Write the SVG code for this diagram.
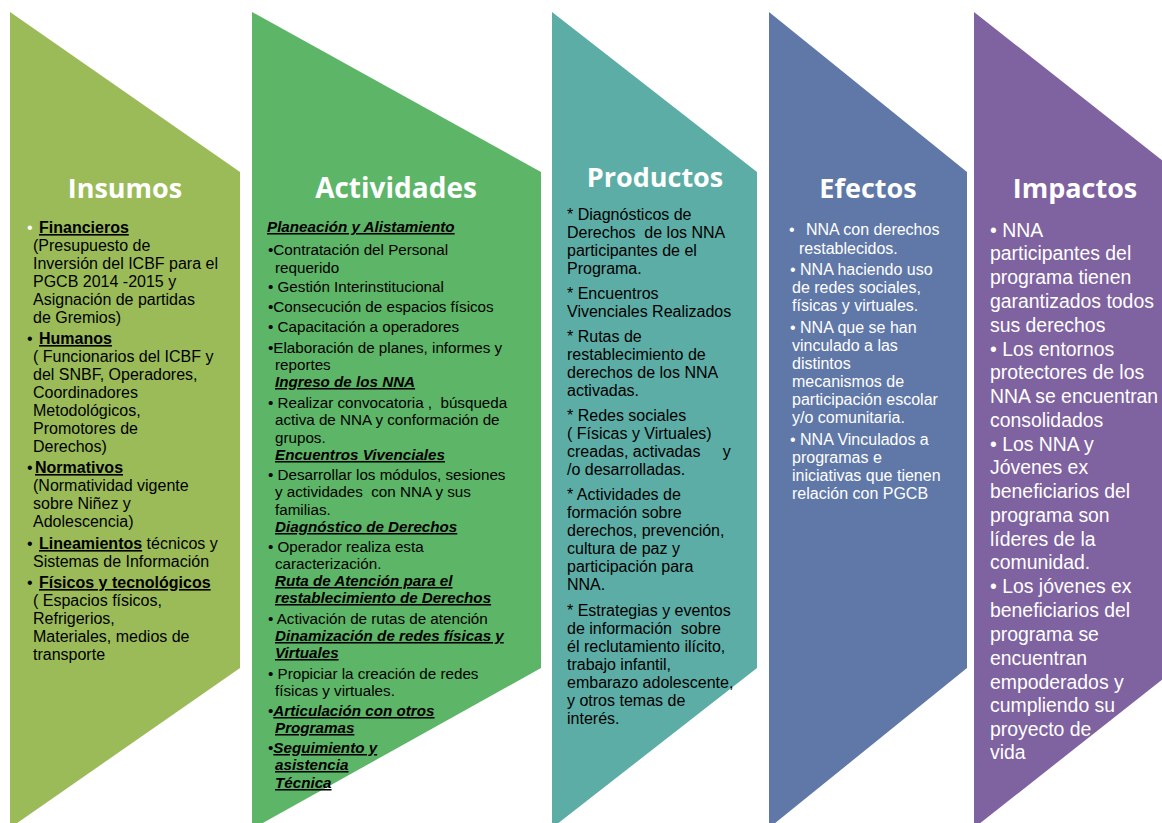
<svg xmlns="http://www.w3.org/2000/svg" width="1162" height="823" viewBox="0 0 1162 823">
<style>
text{font-family:"Liberation Sans",Arial,sans-serif;white-space:pre}
.title{font-family:"Open Sans","Liberation Sans",sans-serif;font-weight:bold;font-size:27px;fill:#fff;text-anchor:middle}
.ins{font-size:16px;fill:#000}
.act{font-size:15.2px;fill:#000}
.pro{font-size:16px;fill:#000}
.efe{font-size:16px;fill:#fff}
.imp{font-size:19.4px;fill:#fff}
.h{font-weight:bold;text-decoration:underline}
.hi{font-weight:bold;font-style:italic;text-decoration:underline}
</style>
<rect width="1162" height="823" fill="#fff"/>

<g id="node-insumos">
<polygon points="10,12 240,172 240,668 10,828" fill="#9BBB59"/>
<text class="title" x="125" y="198">Insumos</text>
<text class="ins" x="27" y="233"><tspan fill="#fff">•</tspan><tspan x="39" class="h">Financieros</tspan></text>
<text class="ins" x="33" y="251">(Presupuesto de</text>
<text class="ins" x="33" y="269">Inversión del ICBF para el</text>
<text class="ins" x="33" y="287">PGCB 2014 -2015 y</text>
<text class="ins" x="33" y="305">Asignación de partidas</text>
<text class="ins" x="33" y="323">de Gremios)</text>
<text class="ins" x="27" y="344">•<tspan x="39" class="h">Humanos</tspan></text>
<text class="ins" x="33" y="362">( Funcionarios del ICBF y</text>
<text class="ins" x="33" y="380">del SNBF, Operadores,</text>
<text class="ins" x="33" y="398">Coordinadores</text>
<text class="ins" x="33" y="416">Metodológicos,</text>
<text class="ins" x="33" y="434">Promotores de</text>
<text class="ins" x="33" y="452">Derechos)</text>
<text class="ins" x="27" y="473">•<tspan x="35" class="h">Normativos</tspan></text>
<text class="ins" x="33" y="491">(Normatividad vigente</text>
<text class="ins" x="33" y="509">sobre Niñez y</text>
<text class="ins" x="33" y="527">Adolescencia)</text>
<text class="ins" x="27" y="549">•<tspan x="39" class="h">Lineamientos</tspan> técnicos y</text>
<text class="ins" x="33" y="567">Sistemas de Información</text>
<text class="ins" x="27" y="588">•<tspan x="39" class="h">Físicos y tecnológicos</tspan></text>
<text class="ins" x="33" y="606">( Espacios físicos,</text>
<text class="ins" x="33" y="624">Refrigerios,</text>
<text class="ins" x="33" y="642">Materiales, medios de</text>
<text class="ins" x="33" y="660">transporte</text>
</g>

<g id="node-actividades">
<polygon points="252,12 541,172 541,668 252,829" fill="#5DB567"/>
<text class="title" x="396" y="198" style="font-size:28px">Actividades</text>
<text class="act hi" x="267" y="232">Planeación y Alistamiento</text>
<text class="act" x="268" y="255">•Contratación del Personal</text>
<text class="act" x="275" y="273">requerido</text>
<text class="act" x="268" y="292">• Gestión Interinstitucional</text>
<text class="act" x="268" y="312">•Consecución de espacios físicos</text>
<text class="act" x="268" y="332">• Capacitación a operadores</text>
<text class="act" x="268" y="353">•Elaboración de planes, informes y</text>
<text class="act" x="275" y="370">reportes</text>
<text class="act hi" x="275" y="387">Ingreso de los NNA</text>
<text class="act" x="268" y="408">• Realizar convocatoria ,  búsqueda</text>
<text class="act" x="275" y="425">activa de NNA y conformación de</text>
<text class="act" x="275" y="443">grupos.</text>
<text class="act hi" x="275" y="460">Encuentros Vivenciales</text>
<text class="act" x="268" y="480">• Desarrollar los módulos, sesiones</text>
<text class="act" x="275" y="497">y actividades  con NNA y sus</text>
<text class="act" x="275" y="515">familias.</text>
<text class="act hi" x="275" y="532">Diagnóstico de Derechos</text>
<text class="act" x="268" y="552">• Operador realiza esta</text>
<text class="act" x="275" y="569">caracterización.</text>
<text class="act hi" x="275" y="586">Ruta de Atención para el</text>
<text class="act hi" x="275" y="603">restablecimiento de Derechos</text>
<text class="act" x="268" y="624">• Activación de rutas de atención</text>
<text class="act hi" x="275" y="641">Dinamización de redes físicas y</text>
<text class="act hi" x="275" y="658">Virtuales</text>
<text class="act" x="268" y="679">• Propiciar la creación de redes</text>
<text class="act" x="275" y="696">físicas y virtuales.</text>
<text class="act" x="268" y="716">•<tspan class="hi">Articulación con otros</tspan></text>
<text class="act hi" x="275" y="733">Programas</text>
<text class="act" x="268" y="753">•<tspan class="hi">Seguimiento y</tspan></text>
<text class="act hi" x="275" y="770">asistencia</text>
<text class="act hi" x="275" y="788">Técnica</text>
</g>

<g id="node-productos">
<polygon points="552,12 757,172 757,668 552,828" fill="#5CADA5"/>
<text class="title" x="655" y="187">Productos</text>
<text class="pro" x="567" y="220">* Diagnósticos de</text>
<text class="pro" x="567" y="238">Derechos  de los NNA</text>
<text class="pro" x="567" y="256">participantes de el</text>
<text class="pro" x="567" y="274">Programa.</text>
<text class="pro" x="567" y="299">* Encuentros</text>
<text class="pro" x="567" y="317">Vivenciales Realizados</text>
<text class="pro" x="567" y="342">* Rutas de</text>
<text class="pro" x="567" y="360">restablecimiento de</text>
<text class="pro" x="567" y="378">derechos de los NNA</text>
<text class="pro" x="567" y="396">activadas.</text>
<text class="pro" x="567" y="421">* Redes sociales</text>
<text class="pro" x="567" y="439">( Físicas y Virtuales)</text>
<text class="pro" x="567" y="457">creadas, activadas     y</text>
<text class="pro" x="567" y="475">/o desarrolladas.</text>
<text class="pro" x="567" y="500">* Actividades de</text>
<text class="pro" x="567" y="518">formación sobre</text>
<text class="pro" x="567" y="536">derechos, prevención,</text>
<text class="pro" x="567" y="554">cultura de paz y</text>
<text class="pro" x="567" y="572">participación para</text>
<text class="pro" x="567" y="590">NNA.</text>
<text class="pro" x="567" y="616">* Estrategias y eventos</text>
<text class="pro" x="567" y="634">de información  sobre</text>
<text class="pro" x="567" y="652">él reclutamiento ilícito,</text>
<text class="pro" x="567" y="670">trabajo infantil,</text>
<text class="pro" x="567" y="688">embarazo adolescente,</text>
<text class="pro" x="567" y="706">y otros temas de</text>
<text class="pro" x="567" y="724">interés.</text>
</g>

<g id="node-efectos">
<polygon points="769,12 967,172 967,668 769,828" fill="#5F78A8"/>
<text class="title" x="868" y="198">Efectos</text>
<text class="efe" x="789" y="235">•<tspan x="806">NNA con derechos</tspan></text>
<text class="efe" x="799" y="254">restablecidos.</text>
<text class="efe" x="790" y="275">• NNA haciendo uso</text>
<text class="efe" x="792" y="293">de redes sociales,</text>
<text class="efe" x="792" y="311">físicas y virtuales.</text>
<text class="efe" x="790" y="333">• NNA que se han</text>
<text class="efe" x="792" y="351">vinculado a las</text>
<text class="efe" x="792" y="369">distintos</text>
<text class="efe" x="792" y="387">mecanismos de</text>
<text class="efe" x="792" y="405">participación escolar</text>
<text class="efe" x="792" y="423">y/o comunitaria.</text>
<text class="efe" x="790" y="445">• NNA Vinculados a</text>
<text class="efe" x="792" y="463">programas e</text>
<text class="efe" x="792" y="481">iniciativas que tienen</text>
<text class="efe" x="792" y="499">relación con PGCB</text>
</g>

<g id="node-impactos">
<polygon points="974,12 1177,172 1177,668 974,828" fill="#7F62A0"/>
<text class="title" x="1075" y="198">Impactos</text>
<text class="imp" x="990" y="237">• NNA</text>
<text class="imp" x="990" y="260">participantes del</text>
<text class="imp" x="990" y="284">programa tienen</text>
<text class="imp" x="990" y="308">garantizados todos</text>
<text class="imp" x="990" y="332">sus derechos</text>
<text class="imp" x="990" y="356">• Los entornos</text>
<text class="imp" x="990" y="379">protectores de los</text>
<text class="imp" x="990" y="403">NNA se encuentran</text>
<text class="imp" x="990" y="427">consolidados</text>
<text class="imp" x="990" y="451">• Los NNA y</text>
<text class="imp" x="990" y="474">Jóvenes ex</text>
<text class="imp" x="990" y="498">beneficiarios del</text>
<text class="imp" x="990" y="522">programa son</text>
<text class="imp" x="990" y="546">líderes de la</text>
<text class="imp" x="990" y="569">comunidad.</text>
<text class="imp" x="990" y="593">• Los jóvenes ex</text>
<text class="imp" x="990" y="617">beneficiarios del</text>
<text class="imp" x="990" y="641">programa se</text>
<text class="imp" x="990" y="665">encuentran</text>
<text class="imp" x="990" y="689">empoderados y</text>
<text class="imp" x="990" y="712">cumpliendo su</text>
<text class="imp" x="990" y="736">proyecto de</text>
<text class="imp" x="990" y="759">vida</text>
</g>
</svg>
